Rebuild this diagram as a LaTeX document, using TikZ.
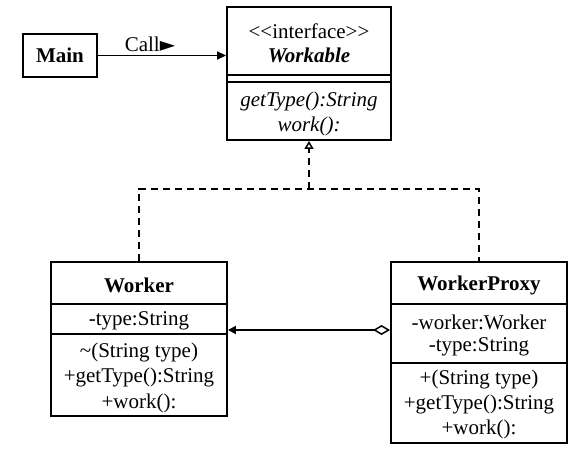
\documentclass[tikz,border=0pt]{standalone}
\usepackage{fontspec}
\setmainfont{Liberation Serif}
\newfontfamily\symfont{DejaVu Sans}
\usetikzlibrary{arrows.meta}
\begin{document}
\begin{tikzpicture}[x=1pt,y=-1pt,
  box/.style={draw,line width=1.9pt,inner sep=0pt},
  txt/.style={font=\fontsize{21}{25}\selectfont,inner sep=0pt},
  sep/.style={line width=1.9pt},
  link/.style={line width=1.8pt}]
\useasboundingbox (0,0) rectangle (578,450);
% boxes
\node[box,minimum width=74pt,minimum height=43pt,txt] (main) at (60,55.5) {\textbf{Main}};
\node[box,minimum width=164pt,minimum height=133pt] (wk) at (309,73.5) {};
\node[box,minimum width=176pt,minimum height=154pt] (w) at (139,339) {};
\node[box,minimum width=176pt,minimum height=181pt] (wp) at (479,352.5) {};
% separators
\draw[sep] (wk.west |- 0,75) -- (wk.east |- 0,75);
\draw[sep] (wk.west |- 0,82) -- (wk.east |- 0,82);
\draw[sep] (w.west |- 0,304) -- (w.east |- 0,304);
\draw[sep] (w.west |- 0,334) -- (w.east |- 0,334);
\draw[sep] (wp.west |- 0,304) -- (wp.east |- 0,304);
\draw[sep] (wp.west |- 0,363) -- (wp.east |- 0,363);
% texts Workable
\node[txt] (wk1) at (309,31) {<{}<interface>{}>};
\node[txt] (wk2) at (309,55) {\textbf{\textit{Workable}}};
\node[txt] (wk3) at (309,101) {\textit{getType():String}};
\node[txt] (wk4) at (309,126) {\textit{work():}};
% texts Worker
\node[txt] (w1) at (139,285) {\textbf{Worker}};
\node[txt] (w2) at (139,321) {-type:String};
\node[txt] (w3) at (139,352) {\textasciitilde(String type)};
\node[txt] (w4) at (139,377) {+getType():String};
\node[txt] (w5) at (139,403) {+work():};
% texts WorkerProxy
\node[txt] (p1) at (479,285) {\textbf{WorkerProxy}};
\node[txt] (p2) at (479,322) {-worker:Worker};
\node[txt] (p3) at (479,347) {-type:String};
\node[txt] (p4) at (479,379) {+(String type)};
\node[txt] (p5) at (479,404) {+getType():String};
\node[txt] (p6) at (479,429) {+work():};
% connectors
\draw[link,-{Triangle[length=9pt,width=8pt]}] (main.east) -- (wk.west |- main.east);
\node[txt] (call) at (150,44) {Call{\symfont\fontsize{20}{20}\selectfont►}};
\coordinate (j) at (309,189);
\draw[link,dash pattern=on 7pt off 5pt] (w.north) -- (w.north |- j) -| (wp.north);
\draw[link,dash pattern=on 7pt off 5pt,-{Triangle[open,length=8pt,width=9pt,line width=1.5pt]}] (j) -- (wk.south);
\draw[link,{Diamond[open,length=17pt,width=10pt,line width=1.5pt]}-{Triangle[length=8pt,width=8pt]}] (wp.west |- 0,330) -- (w.east |- 0,330);
\end{tikzpicture}
\end{document}
